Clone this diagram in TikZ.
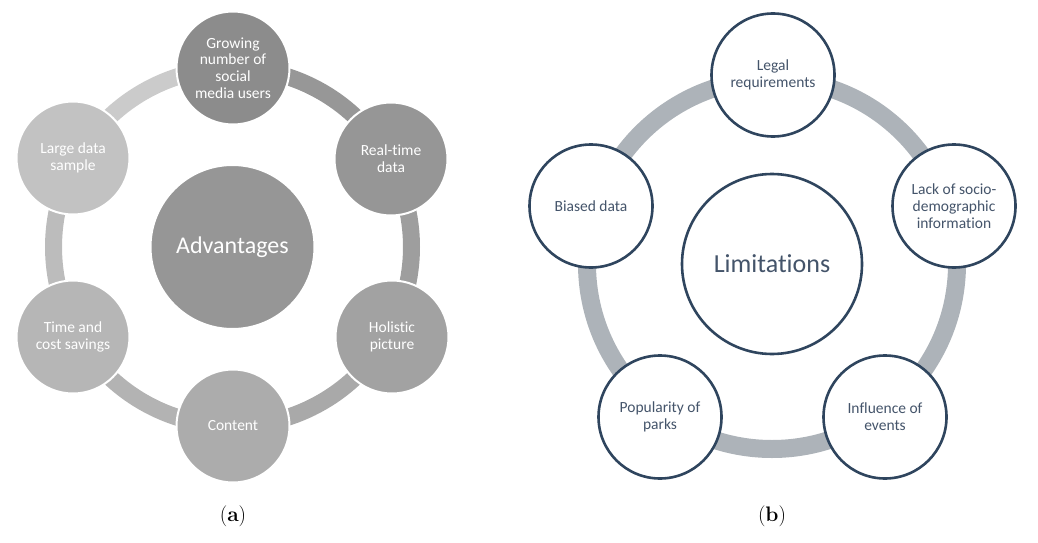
\documentclass[tikz,border=0pt]{standalone}
\usepackage{fontspec}
\newfontfamily\calfont[Ligatures=NoCommon]{Carlito}

\definecolor{advgrow}{RGB}{140,140,140}
\definecolor{advreal}{RGB}{150,150,150}
\definecolor{advholi}{RGB}{162,162,162}
\definecolor{advcont}{RGB}{172,172,172}
\definecolor{advtime}{RGB}{182,182,182}
\definecolor{advlarge}{RGB}{194,194,194}
\definecolor{advmid}{RGB}{150,150,150}
\definecolor{limline}{RGB}{47,69,94}
\definecolor{limtext}{RGB}{68,84,106}
\definecolor{limring}{RGB}{173,179,185}

\begin{document}
\begin{tikzpicture}[x=1pt, y=1pt,
	advbox/.style={circle, draw=white, line width=2pt, text=white, inner sep=0pt, minimum size=113pt, align=center, font=\calfont\fontsize{15.5}{16.8}\selectfont},
	limbox/.style={circle, draw=limline, line width=2.6pt, fill=white, text=limtext, inner sep=0pt, minimum size=123pt, align=center, font=\calfont\fontsize{15.5}{16.8}\selectfont},
	ringa/.style={line width=17pt},
	ringb/.style={line width=18pt, draw=limring},
	capbox/.style={font=\fontsize{21}{24}\selectfont}]

	\useasboundingbox (0,0) rectangle (1038,-543);

	\coordinate (ca) at (232.5,-247);
	\coordinate (cb) at (772,-264);

	\draw[ringa, draw=advlarge!85!white] (ca) ++(150:179) arc[start angle=150, end angle=90, radius=179];
	\draw[ringa, draw=advgrow!90!white] (ca) ++(90:179) arc[start angle=90, end angle=30, radius=179];
	\draw[ringa, draw=advreal!92!white] (ca) ++(30:179) arc[start angle=30, end angle=-30, radius=179];
	\draw[ringa, draw=advholi!92!white] (ca) ++(-30:179) arc[start angle=-30, end angle=-90, radius=179];
	\draw[ringa, draw=advcont!92!white] (ca) ++(-90:179) arc[start angle=-90, end angle=-150, radius=179];
	\draw[ringa, draw=advtime!92!white] (ca) ++(210:179) arc[start angle=210, end angle=150, radius=179];

	\node[advbox, fill=advmid, minimum size=164pt, font=\calfont\fontsize{24}{28}\selectfont] (adv) at (ca) {Advantages};
	\node[advbox, fill=advgrow] (grow) at (233,-68) {Growing\\number of\\social\\media users};
	\node[advbox, fill=advreal] (real) at (391,-159) {Real-time\\data};
	\node[advbox, fill=advholi] (holi) at (392,-337) {Holistic\\picture};
	\node[advbox, fill=advcont] (cont) at (233,-426) {Content};
	\node[advbox, fill=advtime] (time) at (73,-337) {Time and\\cost savings};
	\node[advbox, fill=advlarge] (large) at (73,-158) {Large data\\sample};

	\draw[ringb] (cb) circle[radius=185];

	\node[limbox, minimum size=180pt, font=\calfont\fontsize{26}{30}\selectfont] (lim) at (772,-264) {Limitations};
	\node[limbox] (legal) at (773,-75) {Legal\\requirements};
	\node[limbox] (lack) at (954,-206) {Lack of socio-\\demographic\\information};
	\node[limbox] (infl) at (885,-417) {Influence of\\events};
	\node[limbox] (popu) at (660,-417) {Popularity of\\parks};
	\node[limbox] (bias) at (591,-206) {Biased data};

	\node[capbox] (capa) at (233,-516) {(\textbf{a})};
	\node[capbox] (capb) at (772,-516) {(\textbf{b})};

\end{tikzpicture}
\end{document}
